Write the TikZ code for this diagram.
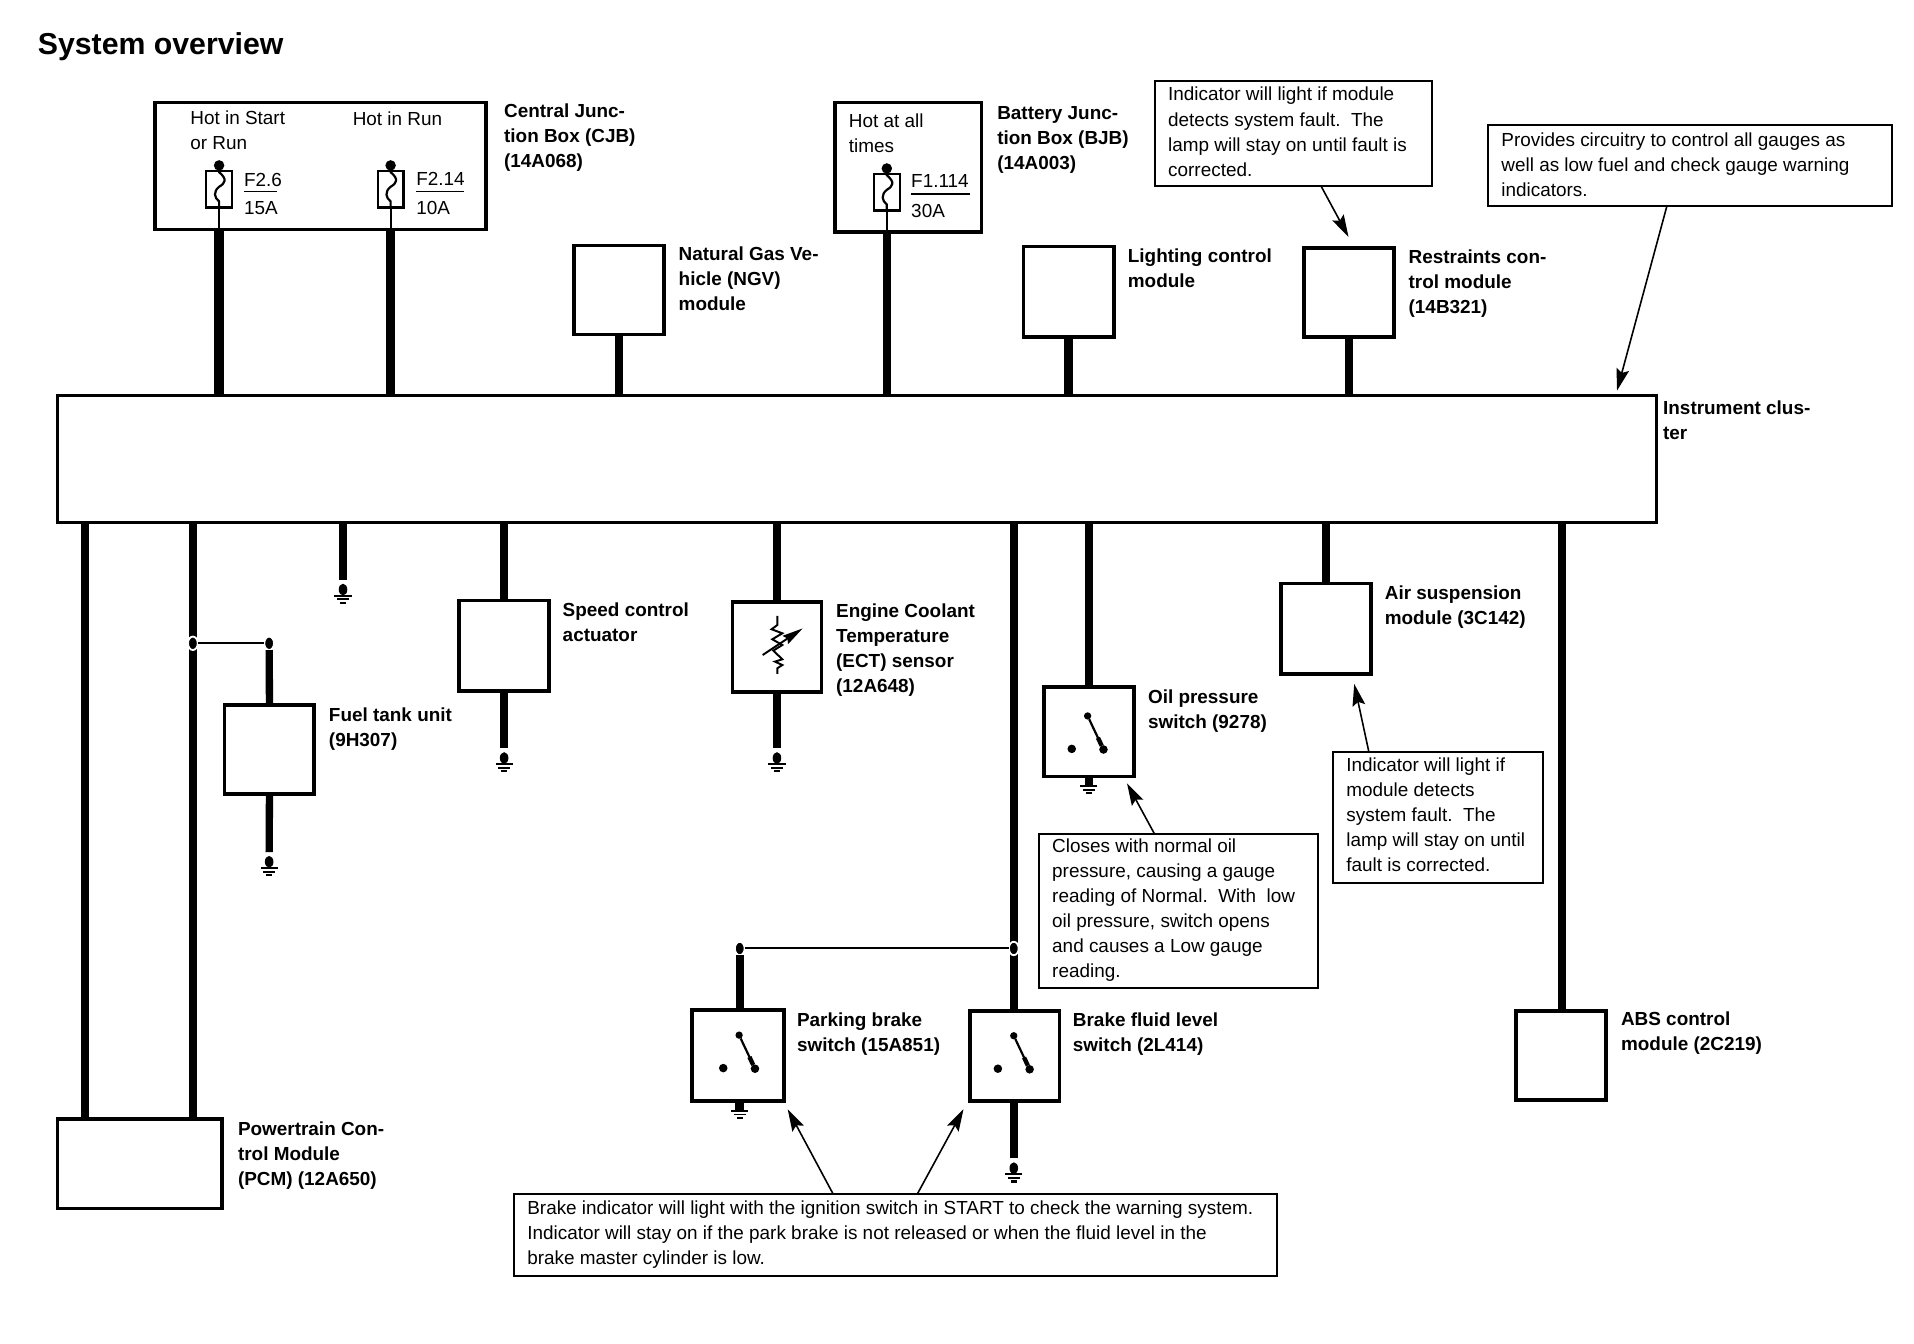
\documentclass[tikz,border=0pt]{standalone}
\usepackage{fontspec}
\setmainfont{Liberation Sans}
\usetikzlibrary{arrows.meta,shapes.geometric,calc}
\tikzset{
  mod/.style={draw=black,line width=3pt,rectangle,inner sep=0pt,outer sep=0pt},
  notebx/.style={draw=black,line width=1.6pt,rectangle,inner sep=0pt,outer sep=0pt},
  fusebx/.style={draw=black,line width=1.8pt,rectangle,inner sep=0pt,outer sep=0pt,minimum width=21pt,minimum height=30pt},
  wire/.style={line width=7pt,draw=black},
  wirethin/.style={line width=1.8pt,draw=black},
  pointer/.style={line width=1.3pt,draw=black,-{Stealth[length=18pt,width=10.5pt,inset=3pt]}},
  lab/.style={anchor=north west,inner sep=0pt,outer sep=0pt,align=left,yshift=11pt,
     font=\fontsize{15.5}{20.5}\selectfont,execute at begin node={\rule{0pt}{12pt}}},
  blab/.style={lab,font=\fontsize{15.5}{20.5}\selectfont\bfseries},
  jdot/.style={ellipse,fill=black,draw=white,line width=1.5pt,inner sep=0pt,outer sep=0pt,minimum width=8pt,minimum height=11pt},
  swdot/.style={circle,fill=black,inner sep=0pt,outer sep=0pt,minimum size=7pt},
}
\newcommand\boxat[6]{\node[#1,minimum width={(#5-#3)*1pt},minimum height={(#6-#4)*1pt}] (#2) at ({(#3+#5)/2},{(#4+#6)/2}) {};}
\newcommand\gnd[1]{\begin{scope}[shift={(#1)}]
  \fill (0,8) ellipse [x radius=3.5pt,y radius=4.8pt];
  \fill (-7,12.2) rectangle (7,13.8);
  \fill (-5,15.2) rectangle (5,16.8);
  \fill (-2.5,18) rectangle (2.5,19.8);
\end{scope}}
\newcommand\gndb[1]{\begin{scope}[shift={(#1)}]
  \fill (-3.5,0) rectangle (3.5,6);
  \fill (-7,6.2) rectangle (7,7.8);
  \fill (-5,9.2) rectangle (5,10.8);
  \fill (-2.5,12) rectangle (2.5,13.8);
\end{scope}}
\newcommand\fuse[4]{%
  \node[fusebx] (#1) at (#2,#3) {};
  \fill (#2,#3-19.5) circle (4.3pt);
  \draw[wirethin] (#2,#3-19) -- (#2,#3-14) .. controls (#2+7,#3-8) and (#2+5,#3-5) .. (#2,#3-2)
     .. controls (#2-5,#3+2) and (#2-4,#3+7) .. (#2,#3+10) -- (#1.south -| #1) ;
  \draw[wirethin] (#1.south) -- (#4.south -| #1);
}
\newcommand\switch[3]{%
  \node[swdot,minimum size=6pt] (#1t) at (#2,#3) {};
  \node[swdot] (#1e) at (#2+13,#3+27.5) {};
  \node[swdot] (#1l) at (#2-13,#3+27) {};
  \draw[line width=1.8pt] (#1t) -- (#1e);
  \draw[line width=3.6pt] ($(#1t)!0.65!(#1e)$) -- (#1e);
}
\begin{document}
\begin{tikzpicture}[x=1pt,y=-1pt]
\useasboundingbox (0,0) rectangle (1568,1101);
\fill[white] (0,0) rectangle (1568,1101);

\node[lab,font=\fontsize{24.8}{28}\selectfont\bfseries] (title) at (31,38) {System overview};

% boxes
\boxat{mod}{cluster}{47}{324}{1357}{428}
\boxat{mod}{cjb}{127}{84}{398}{188}
\boxat{mod}{bjb}{684}{84}{804}{190}
\boxat{mod}{ngv}{470}{201}{544}{274}
\boxat{mod}{light}{838.5}{202}{912.5}{276}
\boxat{mod}{restr}{1068}{203}{1142}{276}
\boxat{mod}{speed}{376}{492}{450}{566}
\boxat{mod}{ect}{600}{493}{673}{567}
\boxat{mod}{fuel}{184}{577.5}{257.5}{650.5}
\boxat{mod}{oil}{855}{563}{929}{636}
\boxat{mod}{air}{1049.5}{478}{1123}{552}
\boxat{mod}{abs}{1242}{828}{1315.5}{901}
\boxat{mod}{park}{567}{827.5}{642}{902}
\boxat{mod}{brake}{794.5}{828}{868}{902}
\boxat{mod}{pcm}{47}{916.5}{182}{990}

% notes
\boxat{notebx}{n1}{946}{66}{1173}{152}
\boxat{notebx}{n2}{1219}{102.5}{1550}{169}
\boxat{notebx}{n3}{851}{683}{1080}{809.5}
\boxat{notebx}{n4}{1092}{616}{1264}{723.5}
\boxat{notebx}{n5}{421}{978.5}{1046}{1045}

% fuses
\fuse{fa}{179.5}{155}{cjb}
\fuse{fb}{320}{155}{cjb}
\fuse{fc}{726.5}{157.5}{bjb}

% top wires
\draw[wire,line width=8pt] (cjb.south -| fa) -- (cluster.north -| fa);
\draw[wire] (cjb.south -| fb) -- (cluster.north -| fb);
\draw[wire] (ngv.south) -- (cluster.north -| ngv);
\draw[wire,line width=6.5pt] (bjb.south -| fc) -- (cluster.north -| fc);
\draw[wire] (light.south) -- (cluster.north -| light);
\draw[wire] (restr.south) -- (cluster.north -| restr);

% bottom wires
\coordinate (wa) at (69.5,917);
\coordinate (wb) at (158,917);
\draw[wire] (cluster.south -| wa) -- (pcm.north -| wa);
\draw[wire,line width=6pt] (cluster.south -| wb) -- (pcm.north -| wb);

\coordinate (g1) at (281,475);
\draw[wire,line width=6pt] (cluster.south -| g1) -- (g1);
\gnd{g1}

\draw[wire,line width=6.5pt] (cluster.south -| speed) -- (speed.north);
\coordinate (g2) at (413,613);
\draw[wire,line width=6pt] (speed.south) -- (g2);
\gnd{g2}

\draw[wire] (cluster.south -| ect) -- (ect.north);
\coordinate (g3) at (636.5,613);
\draw[wire] (ect.south) -- (g3);
\gnd{g3}

% fuel tank branch
\node[jdot] (j1) at (158,527) {};
\node[jdot] (j2) at (220.5,527) {};
\draw[line width=1.5pt] (j1) -- (j2);
\draw[wire,line width=6pt] (j2) -- (fuel.north);
\coordinate (g4) at (220.5,698);
\draw[wire,line width=6pt] (fuel.south) -- (g4);
\gnd{g4}

% brake level wire
\coordinate (wd) at (830.5,600);
\draw[wire] (cluster.south -| wd) -- (brake.north -| wd);
\coordinate (g5) at (830.5,949);
\draw[wire] (brake.south -| wd) -- (g5);
\gnd{g5}

% parking branch
\node[jdot] (j3) at (830.5,777) {};
\node[jdot] (j4) at (606,777) {};
\draw[line width=1.6pt] (j3) -- (j4);
\draw[wire,line width=6.5pt] (j4) -- (park.north -| j4);
\coordinate (g6) at (606,903);
\gndb{g6}

% oil
\coordinate (we) at (892,600);
\draw[wire] (cluster.south -| we) -- (oil.north -| we);
\coordinate (g7) at (892,637);
\gndb{g7}

% air, abs
\coordinate (wf) at (1279.5,600);
\draw[wire] (cluster.south -| air) -- (air.north);
\draw[wire] (cluster.south -| wf) -- (abs.north -| wf);

% switches
\switch{so}{891}{586.5}
\switch{sp}{605.5}{848}
\switch{sb}{830.5}{848.5}

% thermistor
\draw[line width=1.6pt] (636.8,504.6) -- (636.8,512) -- (632.1,515.5) -- (640.9,518.8) -- (632.7,523.7) -- (640.9,528.4) -- (633.5,533) -- (640.9,540.1) -- (634.9,542) -- (640.9,544.8) -- (636.8,547.5) -- (636.8,552.1);
\draw[line width=1.6pt,-{Stealth[length=17pt,width=8pt,inset=2pt]}] (624.8,536.6) -- (657.6,514.8);

% fuse text
\node[lab] (fat) at (200,151.5) {F2.6};
\node[lab] (fab) at (200,175) {15A};
\draw[line width=1.2pt] (200,157) -- (227,157);
\node[lab] (fbt) at (341,151) {F2.14};
\node[lab] (fbb) at (341,175) {10A};
\draw[line width=1.2pt] (341,157) -- (380,157);
\node[lab] (fct) at (746.5,153) {F1.114};
\node[lab] (fcb) at (746.5,177) {30A};
\draw[line width=1.2pt] (746.5,159) -- (795,159);

\node[lab] (h1) at (156,102) {Hot in Start\\or Run};
\node[lab] (h2) at (289,102) {Hot in Run};
\node[lab] (h3) at (695.5,104) {Hot at all\\times};

% bold labels
\node[blab] (lcjb) at (413,96) {Central Junc-\\tion Box (CJB)\\(14A068)};
\node[blab] (lbjb) at (817,98) {Battery Junc-\\tion Box (BJB)\\(14A003)};
\node[blab] (lngv) at (556,213.5) {Natural Gas Ve-\\hicle (NGV)\\module};
\node[blab] (llight) at (924,215) {Lighting control\\module};
\node[blab] (lrestr) at (1154,215.5) {Restraints con-\\trol module\\(14B321)};
\node[blab] (lclus) at (1362.5,339) {Instrument clus-\\ter};
\node[blab] (lspeed) at (461,505) {Speed control\\actuator};
\node[blab] (lect) at (685,505.5) {Engine Coolant\\Temperature\\(ECT) sensor\\(12A648)};
\node[blab] (lfuel) at (269.5,590.5) {Fuel tank unit\\(9H307)};
\node[blab] (loil) at (940.5,576) {Oil pressure\\switch (9278)};
\node[blab] (lair) at (1134.5,491) {Air suspension\\module (3C142)};
\node[blab] (labs) at (1328,840) {ABS control\\module (2C219)};
\node[blab] (lpark) at (653,841) {Parking brake\\switch (15A851)};
\node[blab] (lbrake) at (879,841) {Brake fluid level\\switch (2L414)};
\node[blab] (lpcm) at (195,930) {Powertrain Con-\\trol Module\\(PCM) (12A650)};

% note text
\node[lab] (t1) at (957,82.5) {Indicator will light if module\\detects system fault.\ \ The\\lamp will stay on until fault is\\corrected.};
\node[lab] (t2) at (1230,120) {Provides circuitry to control all gauges as\\well as low fuel and check gauge warning\\indicators.};
\node[lab] (t3) at (862,698) {Closes with normal oil\\pressure, causing a gauge\\reading of Normal.\ \ With\ \ low\\oil pressure, switch opens\\and causes a Low gauge\\reading.};
\node[lab] (t4) at (1103,632) {Indicator will light if\\module detects\\system fault.\ \ The\\lamp will stay on until\\fault is corrected.};
\node[lab] (t5) at (432,995) {Brake indicator will light with the ignition switch in START to check the warning system.\\Indicator will stay on if the park brake is not released or when the fluid level in the\\brake master cylinder is low.};

% pointers
\coordinate (p1) at (1082,0);   \coordinate (q1) at (1104.7,194);
\coordinate (p2) at (1365.5,0); \coordinate (q2) at (1324.7,320);
\coordinate (p3) at (945.7,0);  \coordinate (q3) at (923.3,641.8);
\coordinate (p4) at (1121.4,0); \coordinate (q4) at (1109.4,560.3);
\coordinate (p5) at (682.7,0);  \coordinate (q5) at (645.3,908.7);
\coordinate (p6) at (751.3,0);  \coordinate (q6) at (789.3,908.7);
\draw[pointer] (n1.south -| p1) -- (q1);
\draw[pointer] (n2.south -| p2) -- (q2);
\draw[pointer] (n3.north -| p3) -- (q3);
\draw[pointer] (n4.north -| p4) -- (q4);
\draw[pointer] (n5.north -| p5) -- (q5);
\draw[pointer] (n5.north -| p6) -- (q6);
\end{tikzpicture}
\end{document}
